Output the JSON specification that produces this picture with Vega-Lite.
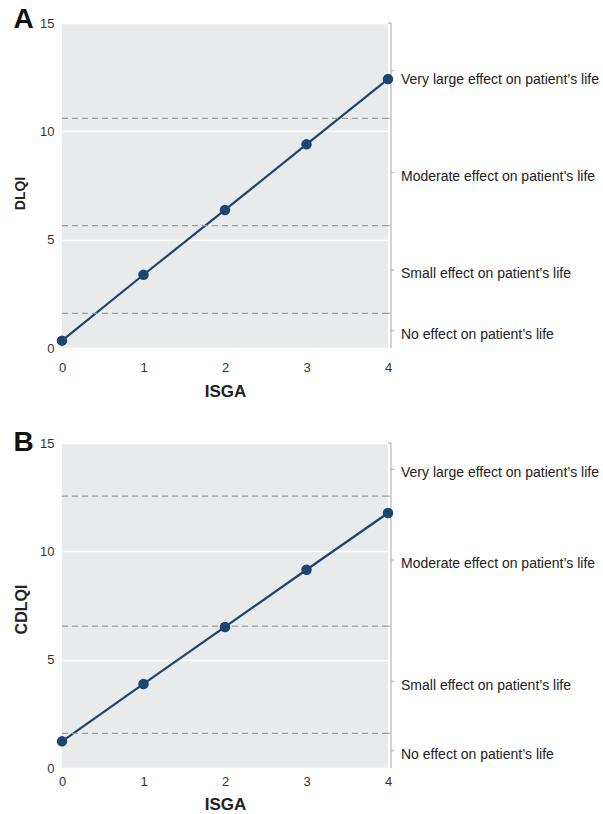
{
  "$schema": "https://vega.github.io/schema/vega-lite/v6.json",
  "padding": {"left": 13, "top": 6, "right": 0, "bottom": 0},
  "spacing": 30,
  "config": {
    "view": {"fill": "#e9eaec", "stroke": null},
    "font": "Liberation Sans",
    "axis": {
      "labelFont": "Liberation Sans",
      "titleFont": "Liberation Sans",
      "labelFontSize": 13,
      "labelColor": "#333333",
      "titleColor": "#222222",
      "ticks": false,
      "domain": false,
      "labelFlush": false,
      "titleFontWeight": "bold"
    }
  },
  "datasets": {
    "pointsA": [
      {"ISGA": 0, "score": 0.34},
      {"ISGA": 1, "score": 3.38},
      {"ISGA": 2, "score": 6.37},
      {"ISGA": 3, "score": 9.4},
      {"ISGA": 4, "score": 12.41}
    ],
    "pointsB": [
      {"ISGA": 0, "score": 1.23},
      {"ISGA": 1, "score": 3.88},
      {"ISGA": 2, "score": 6.51},
      {"ISGA": 3, "score": 9.15},
      {"ISGA": 4, "score": 11.77}
    ],
    "bandsA": [
      {"lo": 0, "hi": 1.6, "mid": 0.8, "ly": 0.8, "label": "No effect on patient’s life"},
      {"lo": 1.6, "hi": 5.65, "mid": 3.6, "ly": 3.6, "label": "Small effect on patient’s life"},
      {"lo": 5.65, "hi": 10.6, "mid": 8.1, "ly": 8.1, "label": "Moderate effect on patient’s life"},
      {"lo": 10.6, "hi": 15, "mid": 12.8, "ly": 12.55, "label": "Very large effect on patient’s life"}
    ],
    "bandsB": [
      {"lo": 0, "hi": 1.6, "mid": 0.8, "ly": 0.8, "label": "No effect on patient’s life"},
      {"lo": 1.6, "hi": 6.55, "mid": 4.0, "ly": 3.95, "label": "Small effect on patient’s life"},
      {"lo": 6.55, "hi": 12.55, "mid": 9.6, "ly": 9.6, "label": "Moderate effect on patient’s life"},
      {"lo": 12.55, "hi": 15, "mid": 13.78, "ly": 13.78, "label": "Very large effect on patient’s life"}
    ],
    "cutsA": [{"cut": 1.6}, {"cut": 5.65}, {"cut": 10.6}],
    "cutsB": [{"cut": 1.6}, {"cut": 6.55}, {"cut": 12.55}]
  },
  "vconcat": [
    {
      "title": {"text": "A", "anchor": "start", "frame": "bounds", "fontSize": 28, "fontWeight": "bold", "color": "#111111", "offset": -17},
      "width": 326,
      "height": 325,
      "layer": [
        {
          "data": {"name": "pointsA"},
          "mark": {"type": "line", "color": "#1b4670", "strokeWidth": 2.2},
          "encoding": {
            "x": {"field": "ISGA", "type": "quantitative", "scale": {"domain": [0, 4], "nice": false}, "axis": {"values": [0, 1, 2, 3, 4], "format": "d", "title": "ISGA", "labelPadding": 13, "titleFontSize": 17, "titlePadding": 9, "grid": false}},
            "y": {"field": "score", "type": "quantitative", "scale": {"domain": [0, 15], "nice": false}, "axis": {"values": [0, 5, 10, 15], "format": "d", "title": "DLQI", "labelPadding": 8, "titleFontSize": 14, "titlePadding": 12, "titleY": 170, "grid": true, "gridColor": "#ffffff", "gridWidth": 1.5}}
          }
        },
        {
          "data": {"name": "cutsA"},
          "mark": {"type": "rule", "color": "#9a9a9a", "strokeDash": [6, 4], "strokeWidth": 1.2},
          "encoding": {
            "y": {"field": "cut", "type": "quantitative"},
            "x": {"datum": 0, "type": "quantitative"},
            "x2": {"datum": 4}
          }
        },
        {
          "data": {"name": "bandsA"},
          "mark": {"type": "rule", "color": "#b5b5b5", "strokeWidth": 1.2, "xOffset": 3},
          "encoding": {
            "x": {"datum": 4, "type": "quantitative"},
            "y": {"field": "lo", "type": "quantitative"},
            "y2": {"field": "hi"}
          }
        },
        {
          "data": {"name": "bandsA"},
          "mark": {"type": "rule", "color": "#b5b5b5", "strokeWidth": 1.2, "xOffset": 3, "x2Offset": 6},
          "encoding": {
            "x": {"datum": 4, "type": "quantitative"},
            "x2": {"datum": 4},
            "y": {"field": "mid", "type": "quantitative"}
          }
        },
        {
          "data": {"name": "bandsA"},
          "mark": {"type": "rule", "color": "#b5b5b5", "strokeWidth": 1.2, "xOffset": 0, "x2Offset": 3},
          "encoding": {
            "x": {"datum": 4, "type": "quantitative"},
            "x2": {"datum": 4},
            "y": {"field": "hi", "type": "quantitative"}
          }
        },
        {
          "data": {"name": "bandsA"},
          "mark": {"type": "text", "align": "left", "baseline": "middle", "dx": 13, "dy": 4, "fontSize": 14, "color": "#222222", "font": "Liberation Sans"},
          "encoding": {
            "x": {"datum": 4, "type": "quantitative"},
            "y": {"field": "ly", "type": "quantitative"},
            "text": {"field": "label"}
          }
        },
        {
          "data": {"name": "pointsA"},
          "mark": {"type": "point", "filled": true, "size": 110, "color": "#1b4670", "opacity": 1},
          "encoding": {
            "x": {"field": "ISGA", "type": "quantitative"},
            "y": {"field": "score", "type": "quantitative"}
          }
        }
      ]
    },
    {
      "title": {"text": "B", "anchor": "start", "frame": "bounds", "fontSize": 28, "fontWeight": "bold", "color": "#111111", "offset": -20},
      "width": 326,
      "height": 325,
      "layer": [
        {
          "data": {"name": "pointsB"},
          "mark": {"type": "line", "color": "#1b4670", "strokeWidth": 2.2},
          "encoding": {
            "x": {"field": "ISGA", "type": "quantitative", "scale": {"domain": [0, 4], "nice": false}, "axis": {"values": [0, 1, 2, 3, 4], "format": "d", "title": "ISGA", "labelPadding": 7, "titleFontSize": 17, "titlePadding": 8, "grid": false}},
            "y": {"field": "score", "type": "quantitative", "scale": {"domain": [0, 15], "nice": false}, "axis": {"values": [0, 5, 10, 15], "format": "d", "title": "CDLQI", "labelPadding": 8, "titleFontSize": 16, "titlePadding": 10, "titleY": 166, "grid": true, "gridColor": "#ffffff", "gridWidth": 1.5}}
          }
        },
        {
          "data": {"name": "cutsB"},
          "mark": {"type": "rule", "color": "#9a9a9a", "strokeDash": [6, 4], "strokeWidth": 1.2},
          "encoding": {
            "y": {"field": "cut", "type": "quantitative"},
            "x": {"datum": 0, "type": "quantitative"},
            "x2": {"datum": 4}
          }
        },
        {
          "data": {"name": "bandsB"},
          "mark": {"type": "rule", "color": "#b5b5b5", "strokeWidth": 1.2, "xOffset": 3},
          "encoding": {
            "x": {"datum": 4, "type": "quantitative"},
            "y": {"field": "lo", "type": "quantitative"},
            "y2": {"field": "hi"}
          }
        },
        {
          "data": {"name": "bandsB"},
          "mark": {"type": "rule", "color": "#b5b5b5", "strokeWidth": 1.2, "xOffset": 3, "x2Offset": 6},
          "encoding": {
            "x": {"datum": 4, "type": "quantitative"},
            "x2": {"datum": 4},
            "y": {"field": "mid", "type": "quantitative"}
          }
        },
        {
          "data": {"name": "bandsB"},
          "mark": {"type": "rule", "color": "#b5b5b5", "strokeWidth": 1.2, "xOffset": 0, "x2Offset": 3},
          "encoding": {
            "x": {"datum": 4, "type": "quantitative"},
            "x2": {"datum": 4},
            "y": {"field": "hi", "type": "quantitative"}
          }
        },
        {
          "data": {"name": "bandsB"},
          "mark": {"type": "text", "align": "left", "baseline": "middle", "dx": 13, "dy": 4, "fontSize": 14, "color": "#222222", "font": "Liberation Sans"},
          "encoding": {
            "x": {"datum": 4, "type": "quantitative"},
            "y": {"field": "ly", "type": "quantitative"},
            "text": {"field": "label"}
          }
        },
        {
          "data": {"name": "pointsB"},
          "mark": {"type": "point", "filled": true, "size": 110, "color": "#1b4670", "opacity": 1},
          "encoding": {
            "x": {"field": "ISGA", "type": "quantitative"},
            "y": {"field": "score", "type": "quantitative"}
          }
        }
      ]
    }
  ]
}
